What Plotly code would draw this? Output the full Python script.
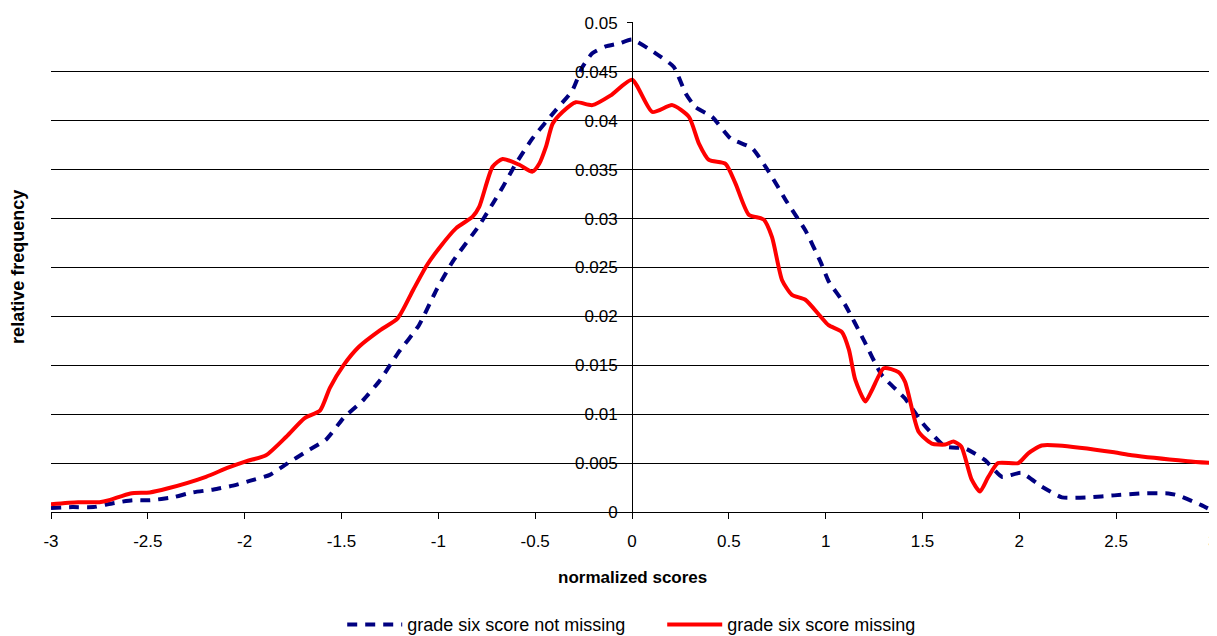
import plotly.graph_objects as go

# Data
red_x = [-3.0, -2.86, -2.75, -2.7, -2.59, -2.49, -2.40, -2.20, -2.09, -1.99, -1.89, -1.785, -1.69, -1.61,
         -1.56, -1.49, -1.41, -1.30, -1.21, -1.13, -1.06, -0.995, -0.909, -0.823, -0.789, -0.72, -0.668,
         -0.582, -0.514, -0.479, -0.445, -0.41, -0.359, -0.29, -0.205, -0.11, 0.0, 0.105, 0.208, 0.294,
         0.345, 0.397, 0.483, 0.534, 0.603, 0.68, 0.723, 0.775, 0.826, 0.895, 0.973, 1.015, 1.084, 1.12,
         1.153, 1.205, 1.24, 1.30, 1.376, 1.41, 1.48, 1.548, 1.617, 1.66, 1.70, 1.754, 1.797, 1.84, 1.89,
         1.995, 2.046, 2.115, 2.20, 2.49, 2.58, 2.87, 3.0]
red_y = [0.0008, 0.001, 0.001, 0.0012, 0.0019, 0.002, 0.0024, 0.0036, 0.0045, 0.0052, 0.0058, 0.0077,
         0.0096, 0.0104, 0.0127, 0.015, 0.0169, 0.0186, 0.0198, 0.0227, 0.0252, 0.027, 0.029, 0.0302,
         0.0312, 0.0353, 0.0361, 0.0355, 0.0348, 0.0356, 0.0373, 0.0397, 0.0409, 0.0419, 0.0416, 0.0426,
         0.0442, 0.0409, 0.0416, 0.0404, 0.0377, 0.036, 0.0356, 0.0336, 0.0304, 0.0299, 0.0281, 0.0237,
         0.0222, 0.0217, 0.02, 0.0191, 0.0184, 0.0166, 0.0135, 0.0113, 0.0125, 0.0147, 0.0143, 0.0133,
         0.0082, 0.007, 0.0069, 0.0072, 0.0067, 0.0033, 0.0021, 0.0036, 0.005, 0.005, 0.006, 0.0068,
         0.0068, 0.0061, 0.0058, 0.0052, 0.005]

blue_x = [-3.0, -2.89, -2.78, -2.68, -2.58, -2.49, -2.37, -2.27, -2.16, -2.06, -1.97, -1.87, -1.785,
          -1.68, -1.58, -1.49, -1.39, -1.30, -1.21, -1.10, -1.01, -0.926, -0.789, -0.72, -0.668, -0.60,
          -0.514, -0.393, -0.308, -0.256, -0.205, -0.136, -0.067, 0.0, 0.122, 0.216, 0.277, 0.328, 0.414,
          0.509, 0.62, 0.706, 0.80, 0.895, 0.973, 1.015, 1.10, 1.196, 1.29, 1.41, 1.50, 1.617, 1.72,
          1.823, 1.91, 2.01, 2.115, 2.22, 2.356, 2.49, 2.63, 2.77, 2.82, 2.94, 3.0]
blue_y = [0.0004, 0.0005, 0.0005, 0.0009, 0.0012, 0.0012, 0.0015, 0.002, 0.0023, 0.0027, 0.0032,
          0.0038, 0.0049, 0.0062, 0.0074, 0.0096, 0.0114, 0.0135, 0.0162, 0.0191, 0.0227, 0.0256,
          0.0293, 0.0315, 0.0332, 0.0356, 0.0382, 0.0411, 0.0431, 0.0455, 0.0469, 0.0476, 0.0479,
          0.0483, 0.0469, 0.0455, 0.0428, 0.0414, 0.0404, 0.0382, 0.0372, 0.0348, 0.0317, 0.0288,
          0.0256, 0.0236, 0.0212, 0.0176, 0.014, 0.0116, 0.0091, 0.0067, 0.0065, 0.0053, 0.0036,
          0.004, 0.0026, 0.0015, 0.0015, 0.0017, 0.0019, 0.0019, 0.0017, 0.0007, 0.0001]

x_ticks = [-3, -2.5, -2, -1.5, -1, -0.5, 0, 0.5, 1, 1.5, 2, 2.5, 3]
x_tick_labels = ["-3", "-2.5", "-2", "-1.5", "-1", "-0.5", "0", "0.5", "1", "1.5", "2", "2.5", "3"]
y_ticks = [0, 0.005, 0.01, 0.015, 0.02, 0.025, 0.03, 0.035, 0.04, 0.045, 0.05]
y_tick_labels = ["0", "0.005", "0.01", "0.015", "0.02", "0.025", "0.03", "0.035", "0.04", "0.045", "0.05"]

FONT = "Liberation Sans, Arial, sans-serif"
FS = 17

fig = go.Figure()
fig.add_trace(go.Scatter(
    x=blue_x, y=blue_y, mode="lines", name="grade six score not missing",
    line=dict(color="#000080", width=4, dash="10px,8px", shape="spline", smoothing=0.5),
))
fig.add_trace(go.Scatter(
    x=red_x, y=red_y, mode="lines", name="grade six score missing",
    line=dict(color="#ff0000", width=4, shape="spline", smoothing=0.6),
))

# page body has an 8px margin; figure sized/positioned to compensate
fig.update_layout(
    width=1209, height=628,
    margin=dict(l=43, r=4, t=14, b=124, autoexpand=False),
    paper_bgcolor="white", plot_bgcolor="white",
    font=dict(family=FONT, size=FS, color="black"),
    showlegend=True,
    legend=dict(orientation="h", x=0.526, xanchor="center", xref="paper",
                y=0.018, yanchor="middle", yref="container",
                font=dict(size=18, family=FONT), itemwidth=55,
                entrywidth=250, entrywidthmode="pixels", tracegroupgap=0),
    xaxis=dict(range=[-3, 3], tickvals=x_ticks, ticktext=x_tick_labels, showgrid=False,
               zeroline=False, showline=True, linecolor="black", linewidth=1,
               ticks="outside", ticklen=6, tickcolor="black", ticklabeloverflow="allow",
               ticklabelstandoff=8, tickfont=dict(size=FS, family=FONT)),
    yaxis=dict(range=[0, 0.0501], tickvals=y_ticks, ticktext=y_tick_labels, showgrid=True,
               gridcolor="#000000", gridwidth=1, zeroline=False, showline=True,
               linecolor="black", linewidth=1, ticks="outside", ticklen=5, tickcolor="black",
               ticklabelstandoff=6,
               anchor="free", position=0.5, tickfont=dict(size=FS, family=FONT)),
    annotations=[
        dict(text="<b>normalized scores</b>", xref="paper", yref="paper", x=0.5, y=-0.133,
             xanchor="center", yanchor="middle", showarrow=False, font=dict(size=FS, family=FONT)),
        dict(text="<b>relative frequency</b>", xref="paper", yref="paper", x=-0.0285, y=0.5,
             xanchor="center", yanchor="middle", textangle=-90, showarrow=False,
             font=dict(size=18, family=FONT)),
    ],
)

fig.write_html("out.html")
